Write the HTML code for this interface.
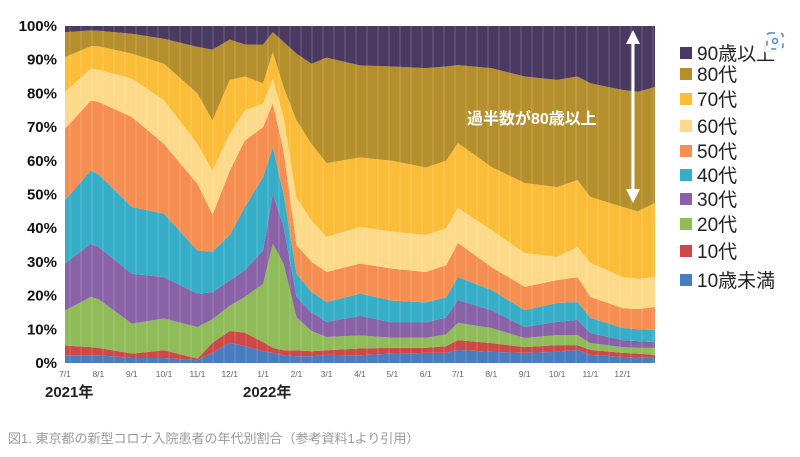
<!DOCTYPE html>
<html><head><meta charset="utf-8">
<style>
body{margin:0;background:#fff;width:800px;height:457px;overflow:hidden;font-family:"Liberation Sans","Noto Sans CJK JP",sans-serif;}
svg{position:absolute;left:0;top:0}
</style></head>
<body>
<svg id="chart" width="800" height="457">
<g id="areas"></g>
<g id="stripes"></g>
<g id="yaxis"></g>
<g id="xaxis"></g>
<g id="legend"></g>
<text x="45" y="397" font-size="15" font-weight="bold" fill="#222">2021年</text>
<text x="243" y="397" font-size="15" font-weight="bold" fill="#222">2022年</text>
<text x="467" y="124" font-size="16" font-weight="bold" fill="#fff">過半数が80歳以上</text>
<g>
<line x1="633" y1="40" x2="633" y2="194" stroke="#fff" stroke-width="3"/>
<polygon points="633,30 626,44 640,44" fill="#fff"/>
<polygon points="633,203 626,189 640,189" fill="#fff"/>
</g>
<g>
<circle cx="775" cy="41" r="15" fill="#fff" opacity="0.9"/>
<rect x="767" y="33" width="16" height="16" rx="3" fill="none" stroke="#4a8ad0" stroke-width="1.5" stroke-dasharray="5 6"/>
<circle cx="775" cy="41" r="2.5" fill="none" stroke="#4a8ad0" stroke-width="1.5"/>
</g>
<text x="8" y="443" font-size="13" fill="#999">図1. 東京都の新型コロナ入院患者の年代別割合（参考資料1より引用）</text>
</svg>
<script>
// days since 2021-07-01
const days = [0,24,31,62,92,123,137,153,167,184,193,203,215,229,243,274,304,335,354,365,396,427,457,476,488,518,532,548];
// cumulative share (%) up to and including each age group
const cumUnder10 = [2.3,2.3,2.3,1.5,1.5,0.8,3,6,5,3.5,3,2.3,2,2,2.4,2.3,2.8,3,3,3.9,3.3,3,3.3,3.9,2.4,1.8,1.6,1.5];
const cum10s = [5.2,4.7,4.5,2.8,3.8,1.3,6,9.5,9,6.2,4.5,3.8,3.8,3.5,3.8,4.3,4.5,4.5,5,6.8,5.9,4.7,5.3,5.3,3.9,3,2.8,2.4];
const cum20s = [15.6,19.6,19,11.7,13.2,10.7,13,17,19.6,23.5,35.4,29.5,13.6,9.5,7.7,8.2,7.5,7.5,8.5,11.9,10.4,7.4,8.3,8.3,5.9,4.7,4.5,4.5];
const cum30s = [29.5,35.4,34.5,26.5,25.5,20.6,21,24.5,27.5,33.4,50.2,40.4,19.6,15,12.2,14,12,12,13.5,18.7,15.7,10.7,12.2,12.8,8.9,6.8,6.5,6.2];
const cum40s = [48.3,57.2,56,46.3,44.3,33.4,33,38,46.3,55.2,64,50.2,26.5,21,18.1,20.6,18.5,18,19.5,25.5,21.7,15.7,17.8,18.1,13.4,10.4,10,9.8];
const cum50s = [69.5,77.9,77.5,73,65,53.2,44,57,66,70,77,63,35,30,27,29.5,28,27,29,35.6,28.5,22.6,24.6,25.5,19.6,16.3,16,16.6];
const cum60s = [80.4,87.3,87,84.4,78,65,57,68,75,77,84.4,73,49,42.3,37.4,40.4,39,38,40,46,39.5,32.6,31.5,34.4,29.7,25.5,25,25.5];
const cum70s = [90.8,94,94,91.8,88.8,80,72,84,85,83,92.3,81.9,72,65,59.3,61,60,58,60,65.3,58.2,53.4,52.2,54.3,49.3,46.3,45,47.5];
const cum80s = [98.2,98.7,98.6,97.7,96.2,93.8,93,96,94.5,94.5,98.2,95.3,91.8,88.8,90.6,88.3,88,87.5,88,88.4,87.5,85,84,85,83,81,80.5,81.9];
const groupNames = ["10歳未満","10代","20代","30代","40代","50代","60代","70代","80代","90歳以上"];
const yTicks = [0,10,20,30,40,50,60,70,80,90,100];
const monthLabels = ["7/1","8/1","9/1","10/1","11/1","12/1","1/1","2/1","3/1","4/1","5/1","6/1","7/1","8/1","9/1","10/1","11/1","12/1"];
const monthDays = [0,31,62,92,123,153,184,215,243,274,304,335,365,396,427,457,488,518];

const colors = ["#4a7cc0","#cf4848","#8fbb58","#8962a7","#36aec8","#f58e50","#fdd98a","#fbbd38","#b58f2b","#4a3a62"];
const X0=65,X1=655,Y0=363,Y1=26,MAXD=548;
const xs = d => X0 + d*(X1-X0)/MAXD;
const ys = p => Y0 - p*(Y0-Y1)/100;
const NS="http://www.w3.org/2000/svg";
const cums=[cumUnder10,cum10s,cum20s,cum30s,cum40s,cum50s,cum60s,cum70s,cum80s,days.map(()=>100)];
const areas=document.getElementById('areas');
cums.forEach((top,i)=>{
  const bot = i===0 ? days.map(()=>0) : cums[i-1];
  let pts=days.map((d,k)=>xs(d)+","+ys(top[k]));
  for(let k=days.length-1;k>=0;k--) pts.push(xs(days[k])+","+ys(bot[k]));
  const p=document.createElementNS(NS,'polygon');
  p.setAttribute('points',pts.join(' '));
  p.setAttribute('fill',colors[i]);
  
  
  areas.appendChild(p);
});
const st=document.getElementById('stripes');
for(let x=X0+5;x<X1;x+=11){
  const l=document.createElementNS(NS,'line');
  l.setAttribute('x1',x);l.setAttribute('x2',x);l.setAttribute('y1',Y1);l.setAttribute('y2',Y0);
  l.setAttribute('stroke','#fff');l.setAttribute('stroke-opacity','0.2');l.setAttribute('stroke-width','1');
  
  
  st.appendChild(l);
}
const ya=document.getElementById('yaxis');
yTicks.forEach(v=>{
  const t=document.createElementNS(NS,'text');
  t.setAttribute('x',57);t.setAttribute('y',ys(v)+5);
  t.setAttribute('text-anchor','end');t.setAttribute('font-size','15');t.setAttribute('font-weight','bold');t.setAttribute('fill','#111');
  t.textContent=v+'%';
  
  
  ya.appendChild(t);
});
const xa=document.getElementById('xaxis');
monthLabels.forEach((m,i)=>{
  const t=document.createElementNS(NS,'text');
  t.setAttribute('x',xs(monthDays[i]));t.setAttribute('y',377);
  t.setAttribute('text-anchor','middle');t.setAttribute('font-size','8.5');t.setAttribute('fill','#666');
  t.textContent=m;
  
  
  xa.appendChild(t);
});
const lg=document.getElementById('legend');
const ly=[52,73,98,125,150,174,198,223,250,279];
for(let i=9;i>=0;i--){
  const row=9-i;
  const g=document.createElementNS(NS,'g');
  
  
  const r=document.createElementNS(NS,'rect');
  r.setAttribute('x',680);r.setAttribute('y',ly[row]-5);r.setAttribute('width',12);r.setAttribute('height',12);r.setAttribute('fill',colors[i]);
  const t=document.createElementNS(NS,'text');
  t.setAttribute('x',697);t.setAttribute('y',ly[row]+8);t.setAttribute('font-size','19');t.setAttribute('fill','#222');
  t.textContent=groupNames[i];
  g.appendChild(r);g.appendChild(t);lg.appendChild(g);
}
</script>
</body></html>
